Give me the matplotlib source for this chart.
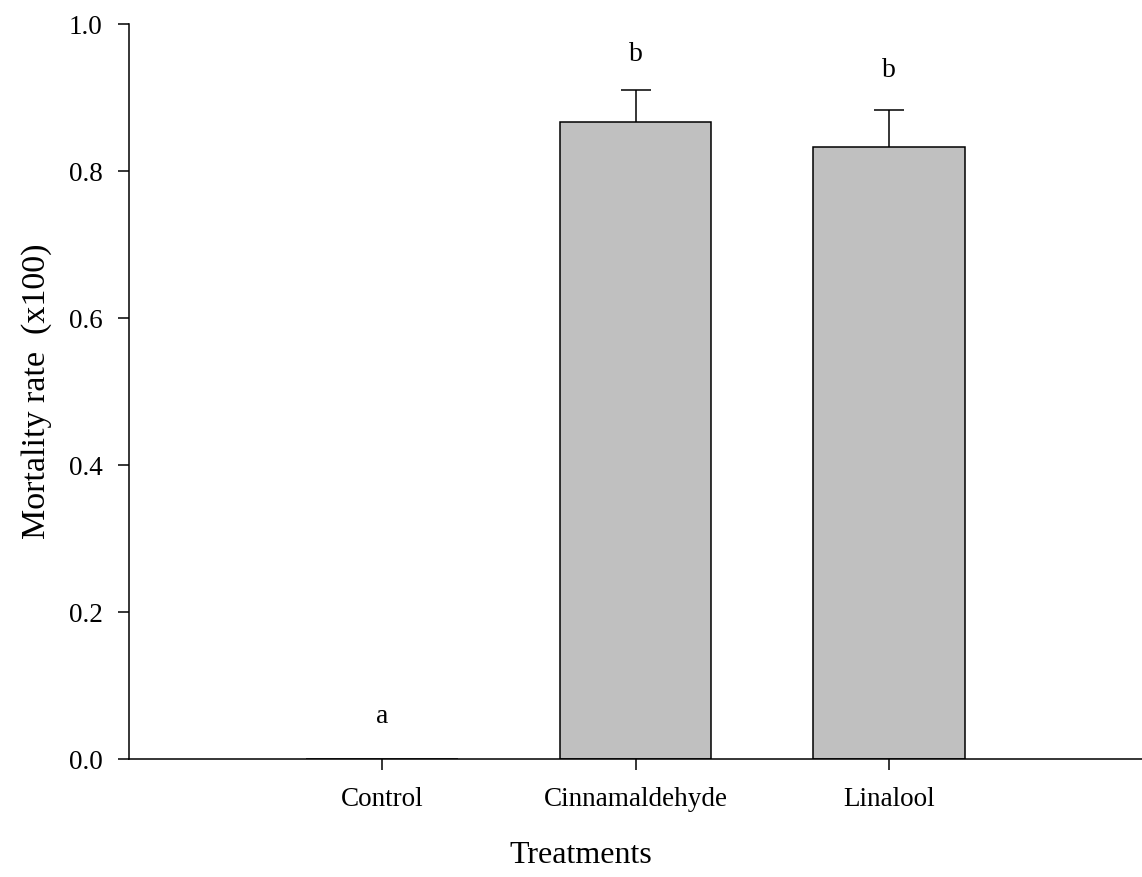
import matplotlib
matplotlib.use("Agg")
import matplotlib.pyplot as plt
import numpy as np

plt.rcParams['font.family'] = ['Liberation Serif', 'DejaVu Serif']

treatments = ["Control", "Cinnamaldehyde", "Linalool"]
mortality = [0.0, 0.867, 0.833]
errors = [0.0, 0.043, 0.050]
letters = ["a", "b", "b"]
letter_y = [0.058, 0.958, 0.937]
yticks = [0.0, 0.2, 0.4, 0.6, 0.8, 1.0]

fig = plt.figure(figsize=(11.42, 8.77), dpi=100)
ax = fig.add_axes([0.113, 0.1345, 0.887, 0.838])

x = np.arange(len(treatments))
ax.bar(x, mortality, width=0.6, color="#c0c0c0", edgecolor="black", linewidth=1.1, zorder=2)

# upper-only error bars (hide the lower cap)
for xi, m, e in zip(x, mortality, errors):
    if e > 0:
        eb = ax.errorbar(xi, m, yerr=[[0], [e]], fmt="none", ecolor="black",
                         elinewidth=1.1, capsize=11, capthick=1.1, zorder=3)
        caps = eb[1]
        caps[0].set_visible(False)

for xi, lab, ly in zip(x, letters, letter_y):
    ax.text(xi, ly, lab, ha="center", va="center", fontsize=20)

ax.set_xlim(-1.0, 3.0)
ax.set_ylim(0.0, 1.0)
ax.set_xticks(x)
ax.set_xticklabels(treatments, fontsize=19.5)
ax.set_yticks(yticks)
ax.set_yticklabels([f"{t:.1f}" for t in yticks], fontsize=19.5)

for side in ("top", "right"):
    ax.spines[side].set_visible(False)
for side in ("left", "bottom"):
    ax.spines[side].set_linewidth(1.1)

ax.tick_params(axis="y", direction="out", length=8, width=1.1, pad=11)
ax.tick_params(axis="x", direction="out", length=8, width=1.1, pad=12)

ax.set_xlabel("Treatments", fontsize=23, labelpad=20)
ax.xaxis.set_label_coords(0.446, -0.112)
ax.set_ylabel("Mortality rate  (x100)", fontsize=24.5, labelpad=12)

fig.savefig("out.png", dpi=100)
